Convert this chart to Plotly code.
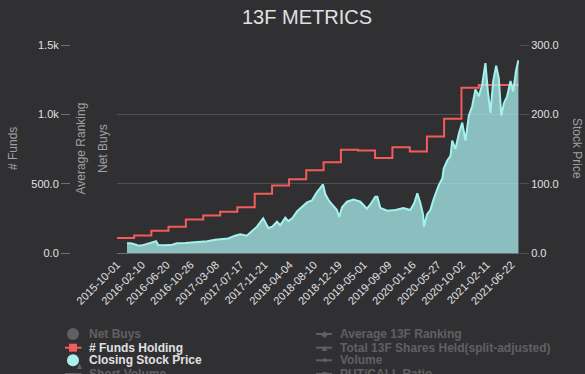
import plotly.graph_objects as go

# ---------------- data ----------------
title_text = "13F METRICS"
tick_dates = ["2015-10-01", "2016-02-10", "2016-06-20", "2016-10-26", "2017-03-08",
              "2017-07-17", "2017-11-21", "2018-04-04", "2018-08-10", "2018-12-19",
              "2019-05-01", "2019-09-09", "2020-01-16", "2020-05-27", "2020-10-02",
              "2021-02-11", "2021-06-22"]

fund_dates = ["2015-10-01", "2015-12-31", "2016-03-31", "2016-06-30", "2016-09-30",
              "2016-12-31", "2017-03-31", "2017-06-30", "2017-09-30", "2017-12-31",
              "2018-03-31", "2018-06-30", "2018-09-30", "2018-12-31", "2019-03-31",
              "2019-06-30", "2019-09-30", "2019-12-31", "2020-03-31", "2020-06-30",
              "2020-09-30", "2020-12-31", "2021-03-31", "2021-06-30", "2021-07-29"]
funds_holding = [108, 127, 160, 189, 242, 271, 297, 330, 428, 486, 531, 596, 655, 744, 740,
                 685, 763, 732, 840, 969, 1192, 1212, 1212, 1212, 1212]

price_dates = ["2015-11-23", "2015-12-14", "2016-01-10", "2016-01-22", "2016-02-11",
               "2016-03-08", "2016-04-04", "2016-04-25", "2016-05-07", "2016-06-12",
               "2016-07-19", "2016-08-14", "2016-09-26", "2016-11-02", "2016-12-15",
               "2017-01-21", "2017-03-04", "2017-04-10", "2017-05-12", "2017-06-18",
               "2017-07-15", "2017-08-19", "2017-09-17", "2017-10-12", "2017-11-14",
               "2017-12-11", "2018-01-01", "2018-01-26", "2018-02-12", "2018-03-11",
               "2018-03-27", "2018-04-17", "2018-05-12", "2018-06-07", "2018-07-04",
               "2018-07-31", "2018-08-26", "2018-09-13", "2018-09-27", "2018-10-09",
               "2018-10-27", "2018-11-14", "2018-12-10", "2018-12-22", "2019-01-06",
               "2019-02-01", "2019-03-08", "2019-04-13", "2019-05-18", "2019-06-05",
               "2019-07-01", "2019-07-12", "2019-07-28", "2019-09-03", "2019-10-16",
               "2019-11-27", "2020-01-03", "2020-01-24", "2020-02-09", "2020-02-25",
               "2020-03-11", "2020-03-15", "2020-04-01", "2020-04-18", "2020-05-06",
               "2020-06-02", "2020-06-21", "2020-06-28", "2020-07-16", "2020-08-03",
               "2020-08-12", "2020-08-29", "2020-09-16", "2020-10-04", "2020-10-21",
               "2020-11-08", "2020-11-26", "2020-12-13", "2020-12-31", "2021-01-18",
               "2021-02-04", "2021-02-17", "2021-03-03", "2021-03-17", "2021-04-02",
               "2021-04-16", "2021-04-29", "2021-05-13", "2021-05-30", "2021-06-17",
               "2021-07-01", "2021-07-17", "2021-07-29"]
closing_price = [14, 14, 12, 10.5, 11, 13.5, 16, 17, 11.5, 11,
                 12, 14, 14.5, 15, 16, 17, 19, 20, 21, 25,
                 27, 25, 32, 38, 50, 36, 38, 45, 40, 51,
                 46, 50, 60, 66, 73, 76, 88, 94, 99, 85,
                 76, 70, 62, 52, 66, 74, 77, 74, 64, 70,
                 81, 81, 65, 61, 62, 65, 62, 72, 86, 72,
                 55, 38, 56, 62, 78, 98, 108, 122, 133, 140,
                 162, 150, 172, 188, 162, 198, 212, 236, 226, 243,
                 274, 233, 202, 248, 270, 252, 198, 216, 226, 248,
                 233, 264, 278]

funds_ticks = [0, 500, 1000, 1500]
funds_ticktext = ["0.0", "500.0", "1.0k", "1.5k"]
price_ticks = [0, 100, 200, 300]
price_ticktext = ["0.0", "100.0", "200.0", "300.0"]

legend_left = ["Net Buys", "# Funds Holding", "Closing Stock Price", "Short Volume"]
legend_right = ["Average 13F Ranking", "Total 13F Shares Held(split-adjusted)", "Volume", "PUT/CALL Ratio"]

# ---------------- layout helpers ----------------
W, H = 585, 374
ML, MR, MT, MB = 10, 66, 45, 121
PW, PH = W - ML - MR, H - MT - MB
def px(x):
    return (x - ML) / PW
def py(y):
    return (H - MB - y) / PH

FONT = "Liberation Sans, Arial, sans-serif"
TXT = "#E0E0E3"
AXT = "#A0A0A3"
HID = "#606063"
GRID = "#505053"
LINE = "#707073"
RED = "#f45b5b"
AQUA = "#aaeeee"

fig = go.Figure()
fig.add_trace(go.Scatter(x=fund_dates, y=funds_holding, mode="lines", line_shape="hv",
                         line=dict(color=RED, width=2), yaxis="y", showlegend=False,
                         name="# Funds Holding"))
fig.add_trace(go.Scatter(x=price_dates, y=closing_price, mode="lines", fill="tozeroy",
                         line=dict(color="#a4f2ec", width=2), fillcolor="rgba(170,238,238,0.75)",
                         yaxis="y2", showlegend=False, name="Closing Stock Price"))

annotations = []
shapes = []

annotations.append(dict(text=title_text, x=px(307), y=py(17), xref="paper", yref="paper",
                        showarrow=False, font=dict(size=20, color=TXT, family=FONT),
                        xanchor="center", yanchor="middle"))
for t, x, y, ang in [("# Funds", 13, 149, -90), ("Average Ranking", 80, 148.5, -90),
                     ("Net Buys", 103, 149, -90), ("Stock Price", 577, 148, 90)]:
    annotations.append(dict(text=t, x=px(x), y=py(y), xref="paper", yref="paper",
                            showarrow=False, textangle=ang,
                            font=dict(size=12, color=AXT, family=FONT),
                            xanchor="center", yanchor="middle"))

rows = [334, 347.7, 360.3, 374]
# left column
left_colors = [HID, TXT, TXT, HID]
for i, name in enumerate(legend_left):
    annotations.append(dict(text="<b>%s</b>" % name, x=px(86.5), y=py(rows[i]), xref="paper",
                            yref="paper", showarrow=False, xanchor="left", yanchor="middle",
                            font=dict(size=12, color=left_colors[i], family=FONT)))
# left markers
shapes.append(dict(type="circle", xref="paper", yref="paper", xsizemode="pixel", ysizemode="pixel",
                   xanchor=px(73), yanchor=py(334), x0=-6, x1=6, y0=-6, y1=6,
                   fillcolor=HID, line=dict(width=0)))
shapes.append(dict(type="line", xref="paper", yref="paper", x0=px(65), x1=px(81.5),
                   y0=py(347.7), y1=py(347.7), line=dict(color=RED, width=2)))
shapes.append(dict(type="rect", xref="paper", yref="paper", xsizemode="pixel", ysizemode="pixel",
                   xanchor=px(73), yanchor=py(347.7), x0=-4, x1=4, y0=-4, y1=4,
                   fillcolor=RED, line=dict(width=0)))
shapes.append(dict(type="circle", xref="paper", yref="paper", xsizemode="pixel", ysizemode="pixel",
                   xanchor=px(73), yanchor=py(360.3), x0=-6, x1=6, y0=-6, y1=6,
                   fillcolor=AQUA, line=dict(width=0)))
shapes.append(dict(type="line", xref="paper", yref="paper", x0=px(65), x1=px(81.5),
                   y0=py(374), y1=py(374), line=dict(color=HID, width=2)))
annotations.append(dict(text="▲", x=px(73), y=py(373), xref="paper", yref="paper",
                        showarrow=False, font=dict(size=9, color=HID, family=FONT)))
# right column
right_syms = ["◆", "▲", "●", "■"]
for i, name in enumerate(legend_right):
    annotations.append(dict(text="<b>%s</b>" % name, x=px(338), y=py(rows[i]), xref="paper",
                            yref="paper", showarrow=False, xanchor="left", yanchor="middle",
                            font=dict(size=12, color=HID, family=FONT)))
    shapes.append(dict(type="line", xref="paper", yref="paper", x0=px(316), x1=px(332),
                       y0=py(rows[i]), y1=py(rows[i]), line=dict(color=HID, width=2)))
    annotations.append(dict(text=right_syms[i], x=px(324), y=py(rows[i]), xref="paper",
                            yref="paper", showarrow=False, xanchor="center", yanchor="middle",
                            font=dict(size=9, color=HID, family=FONT)))

fig.update_layout(
    width=W, height=H,
    margin=dict(l=ML, r=MR, t=MT, b=MB, pad=0, autoexpand=False),
    paper_bgcolor="#303032", plot_bgcolor="rgba(0,0,0,0)",
    font=dict(family=FONT, color=TXT, size=11),
    showlegend=False,
    xaxis=dict(type="date", domain=[px(117), 1], range=["2015-10-01", "2021-08-01"],
               tickmode="array", tickvals=tick_dates, ticktext=tick_dates, tickangle=-45,
               tickfont=dict(size=11, color=TXT), showgrid=False, zeroline=False,
               showline=True, linecolor=LINE, linewidth=1, ticks="", automargin=False),
    yaxis=dict(anchor="free", position=px(70), side="left", range=[0, 1500],
               tickmode="array", tickvals=funds_ticks, ticktext=funds_ticktext,
               ticks="outside", ticklen=9, tickcolor=LINE, tickwidth=1,
               tickfont=dict(size=11, color=TXT), showgrid=False, zeroline=False,
               showline=False, automargin=False),
    yaxis2=dict(overlaying="y", anchor="x", side="right", range=[0, 300],
                tickmode="array", tickvals=price_ticks, ticktext=price_ticktext,
                ticks="outside", ticklen=9, tickcolor=GRID, tickwidth=1,
                tickfont=dict(size=11, color=TXT), showgrid=True, gridcolor=GRID,
                gridwidth=1, zeroline=False, showline=False, automargin=False),
    annotations=annotations,
    shapes=shapes,
)

fig.write_html("out.html", config={"displayModeBar": False},
               post_script="document.body.style.margin='0';")
